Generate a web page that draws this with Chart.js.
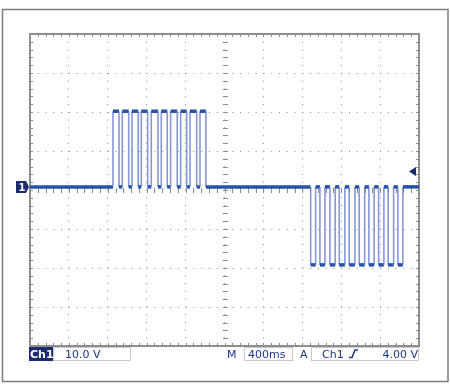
<!DOCTYPE html>
<html>
<head>
<meta charset="utf-8">
<script src="https://cdn.jsdelivr.net/npm/chart.js@4.4.1/dist/chart.umd.min.js"></script>
<style>
html, body { margin: 0; padding: 0; background: #fff; }
#wrap { width: 450px; height: 392px; position: relative; }
</style>
</head>
<body>
<div id="wrap"><canvas id="scope"></canvas></div>
<script>
// scope capture: 10 V/div, 400 ms/div, times in ms, levels in V
var upRise = [853, 949, 1049, 1144, 1247, 1350, 1446, 1549, 1645, 1748];
var upFall = [915, 1015, 1113, 1210, 1316, 1411, 1514, 1611, 1714, 1809];
var dnFall = [2886, 2981, 3084, 3180, 3282, 3385, 3485, 3585, 3683, 3783];
var dnRise = [2937, 3033, 3138, 3238, 3341, 3441, 3539, 3639, 3739, 3834];
var levelHigh = 19.4, levelLow = -20, levelBase = 0;
var timeSpan = [0, 4000];
var voltsPerDiv = 10, msPerDiv = 400;
var posOffset = 0.8;   // ground marker sits a bit above centre
var trigLevel = 4.0;
var readChan = 'Ch1', readVolts = '10.0 V', readTime = '400ms', readTrig = '4.00 V';

var NAVY = '#1c2a6e', TXT = '#1d3585', GRID = '#8e8e8e';
var TRACE = '#2352a6', EDGE = 'rgba(105,125,205,0.8)';

function buildTrace() {
	var pts = [{ x: timeSpan[0], y: levelBase }];
	for (var i = 0; i < upRise.length; i++) {
		pts.push({ x: upRise[i], y: levelBase }, { x: upRise[i], y: levelHigh },
			{ x: upFall[i], y: levelHigh }, { x: upFall[i], y: levelBase });
	}
	for (var j = 0; j < dnFall.length; j++) {
		pts.push({ x: dnFall[j], y: levelBase }, { x: dnFall[j], y: levelLow },
			{ x: dnRise[j], y: levelLow }, { x: dnRise[j], y: levelBase });
	}
	pts.push({ x: timeSpan[1], y: levelBase });
	return pts;
}

function isEdge(c) { return c.p0.parsed.x === c.p1.parsed.x; }

var scopeDeco = {
	id: 'scopeDeco',
	beforeDatasetsDraw: function (chart) {
		var ctx = chart.ctx, a = chart.chartArea;
		var xs = chart.scales.x, ys = chart.scales.y;
		var dx = (a.right - a.left) / 10, dy = (a.bottom - a.top) / 8;
		var cx = Math.round(xs.getPixelForValue((timeSpan[0] + timeSpan[1]) / 2));
		var cy = Math.round(ys.getPixelForValue(-posOffset));
		ctx.save();
		ctx.fillStyle = GRID;
		for (var k = 0; k <= 50; k++) {
			var px = Math.round(a.left + k * dx / 5);
			ctx.fillRect(px, cy - 2, 1, 5);
			ctx.fillRect(px, a.top, 1, 3);
			ctx.fillRect(px, a.bottom - 3, 1, 3);
		}
		for (var m = 0; m <= 40; m++) {
			var py = Math.round(a.top + m * dy / 5);
			ctx.fillRect(cx - 2, py, 5, 1);
			ctx.fillRect(a.left, py, 3, 1);
			ctx.fillRect(a.right - 3, py, 3, 1);
		}
		ctx.strokeStyle = GRID;
		ctx.lineWidth = 2;
		ctx.strokeRect(a.left, a.top, a.right - a.left, a.bottom - a.top);
		ctx.restore();
	},
	afterDraw: function (chart) {
		var ctx = chart.ctx, a = chart.chartArea;
		var ys = chart.scales.y;
		ctx.save();
		// outer frame
		ctx.strokeStyle = '#7c7c7c';
		ctx.lineWidth = 1.5;
		ctx.strokeRect(2.5, 9.5, 445.5, 372);

		// ground marker
		var gy = Math.round(ys.getPixelForValue(levelBase));
		ctx.fillStyle = NAVY;
		ctx.beginPath();
		ctx.moveTo(a.left - 14, gy - 6); ctx.lineTo(a.left - 4, gy - 6);
		ctx.lineTo(a.left - 1, gy); ctx.lineTo(a.left - 4, gy + 6);
		ctx.lineTo(a.left - 14, gy + 6); ctx.closePath(); ctx.fill();
		ctx.fillStyle = '#fff';
		ctx.font = 'bold 10px "DejaVu Sans"';
		ctx.textAlign = 'center'; ctx.textBaseline = 'middle';
		ctx.fillText('1', a.left - 8, gy + 1);

		// trigger level arrow
		var ty = Math.round(ys.getPixelForValue(trigLevel)) + 0.5;
		ctx.fillStyle = NAVY;
		ctx.beginPath();
		ctx.moveTo(a.right - 10, ty); ctx.lineTo(a.right - 3, ty - 4.5);
		ctx.lineTo(a.right - 3, ty + 4.5); ctx.closePath(); ctx.fill();

		// readout row
		var top = a.bottom + 1, h = 14, base = top + 11;
		ctx.fillStyle = NAVY;
		ctx.fillRect(a.left - 1, top, 24, h);
		ctx.fillStyle = '#fff';
		ctx.font = 'bold 11px "DejaVu Sans"';
		ctx.textAlign = 'left'; ctx.textBaseline = 'alphabetic';
		ctx.fillText(readChan, a.left, base);

		ctx.strokeStyle = '#c9c9c9';
		ctx.lineWidth = 1;
		ctx.strokeRect(a.left + 23.5, top + 0.5, 77, h - 1);
		ctx.strokeRect(244.5, top + 0.5, 48, h - 1);
		ctx.strokeRect(311.5, top + 0.5, a.right - 312, h - 1);

		ctx.fillStyle = TXT;
		ctx.font = '11px "DejaVu Sans"';
		ctx.fillText(readVolts, a.left + 35, base);
		ctx.fillText('M', 227, base);
		ctx.fillText(readTime, 248, base);
		ctx.fillText('A', 300, base);
		ctx.fillText(readChan, 322, base);
		ctx.textAlign = 'right';
		ctx.fillText(readTrig, a.right - 1, base);

		// rising-edge slope symbol
		ctx.strokeStyle = TXT;
		ctx.lineWidth = 1.5;
		ctx.beginPath();
		ctx.moveTo(349, base - 0.5); ctx.lineTo(352, base - 0.5);
		ctx.lineTo(355, base - 8); ctx.lineTo(358, base - 8);
		ctx.stroke();
		ctx.restore();
	}
};

var ctx = document.getElementById('scope').getContext('2d');
var chart = new Chart(ctx, {
	type: 'line',
	data: {
		datasets: [{
			data: buildTrace(),
			pointRadius: 0,
			borderColor: TRACE,
			borderWidth: 3,
			borderCapStyle: 'butt',
			borderJoinStyle: 'miter',
			tension: 0,
			segment: {
				borderColor: function (c) { return isEdge(c) ? EDGE : TRACE; },
				borderWidth: function (c) { return isEdge(c) ? 1.6 : 3.5; }
			}
		}]
	},
	options: {
		responsive: true,
		maintainAspectRatio: false,
		animation: false,
		events: [],
		layout: { padding: { left: 30, top: 34, right: 31, bottom: 46 } },
		plugins: { legend: { display: false }, tooltip: { enabled: false } },
		scales: {
			x: {
				type: 'linear',
				min: timeSpan[0], max: timeSpan[1],
				ticks: { display: false, stepSize: msPerDiv },
				grid: { color: GRID, lineWidth: 1, drawTicks: false },
				border: { display: false, dash: [1, 6.78] }
			},
			y: {
				type: 'linear',
				min: -4 * voltsPerDiv - posOffset, max: 4 * voltsPerDiv - posOffset,
				afterBuildTicks: function (s) {
					var t = [];
					for (var i = 0; i <= 8; i++) t.push({ value: s.min + i * voltsPerDiv });
					s.ticks = t;
				},
				ticks: { display: false },
				grid: { color: GRID, lineWidth: 1, drawTicks: false },
				border: { display: false, dash: [1, 6.78] }
			}
		}
	},
	plugins: [scopeDeco]
});
</script>
</body>
</html>
